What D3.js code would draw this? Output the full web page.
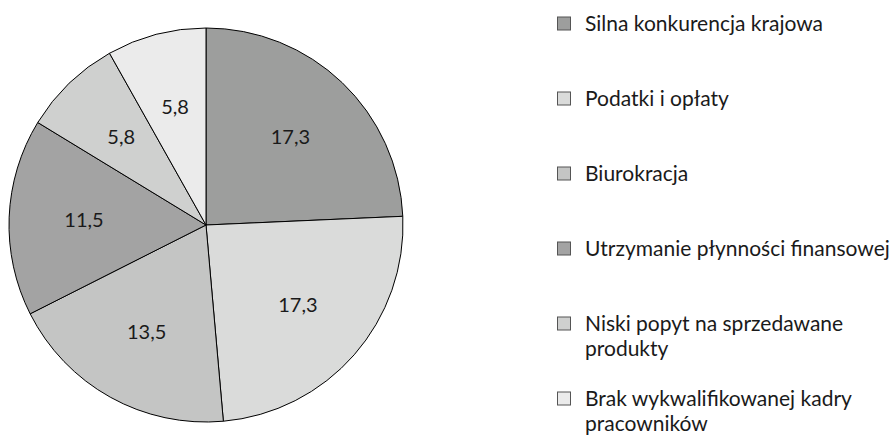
<!DOCTYPE html>
<html>
<head>
<meta charset="utf-8">
<script src="https://cdn.jsdelivr.net/npm/d3@7"></script>
<style>
  body { margin: 0; background: #fff; }
  text { font-family: Lato, "Open Sans", sans-serif; fill: #1a1a1a; }
</style>
</head>
<body>
<div id="chart"></div>
<script>
const categories = [
    'Silna konkurencja krajowa',
    'Podatki i opłaty',
    'Biurokracja',
    'Utrzymanie płynności finansowej',
    'Niski popyt na sprzedawane produkty',
    'Brak wykwalifikowanej kadry pracowników'
]
const values = [17.3, 17.3, 13.5, 11.5, 5.8, 5.8]
const colors = ['#9d9e9d', '#dadbda', '#c4c5c4', '#a3a3a3', '#cfd0cf', '#ebebeb']
// legend text split the way the picture wraps it
const legendLines = [
    ['Silna konkurencja krajowa'],
    ['Podatki i opłaty'],
    ['Biurokracja'],
    ['Utrzymanie płynności finansowej'],
    ['Niski popyt na sprzedawane', 'produkty'],
    ['Brak wykwalifikowanej kadry', 'pracowników']
]

const width = 891
const height = 436
const cx = 206
const cy = 225
const radius = 197

const fmt = (v) => d3.format('.1f')(v).replace('.', ',')

const svg = d3.select('#chart')
    .append('svg')
    .attr('width', width)
    .attr('height', height)

const pie = d3.pie().sort(null).value((d) => d)
const arc = d3.arc().innerRadius(0).outerRadius(radius)
const labelArc = d3.arc().innerRadius(radius * 0.62).outerRadius(radius * 0.62)

const g = svg.append('g').attr('transform', `translate(${cx}, ${cy})`)

const slices = pie(values)

g.selectAll('path')
    .data(slices)
    .enter()
    .append('path')
    .attr('d', arc)
    .attr('fill', (d, i) => colors[i])
    .attr('stroke', '#000')
    .attr('stroke-width', 1)

g.selectAll('text')
    .data(slices)
    .enter()
    .append('text')
    .attr('transform', (d) => `translate(${labelArc.centroid(d)})`)
    .attr('text-anchor', 'middle')
    .attr('dy', '0.35em')
    .style('font-size', '20px')
    .text((d) => fmt(d.data))

const legendY = d3.scalePoint().domain(d3.range(categories.length)).range([23.5, 398.5])

const legend = svg.selectAll('.legend')
    .data(categories)
    .enter()
    .append('g')
    .attr('class', 'legend')
    .attr('transform', (d, i) => `translate(557, ${legendY(i)})`)

legend.append('rect')
    .attr('x', 0.5)
    .attr('y', -6.5)
    .attr('width', 13)
    .attr('height', 13)
    .attr('fill', (d, i) => colors[i])
    .attr('stroke', '#555')
    .attr('stroke-width', 1)

legend.append('text')
    .style('font-size', '21px')
    .selectAll('tspan')
    .data((d, i) => legendLines[i])
    .enter()
    .append('tspan')
    .attr('x', 28)
    .attr('dy', (d, j) => j === 0 ? '0.35em' : '25px')
    .text((d) => d)
</script>
</body>
</html>
